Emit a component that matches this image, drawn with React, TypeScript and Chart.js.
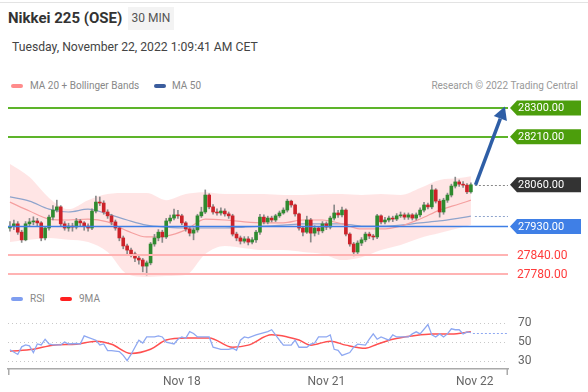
import React, { useEffect, useRef } from "react";
import { Chart, registerables } from "chart.js";

Chart.register(...registerables);

const FONT = "Roboto, 'Liberation Sans', Arial, sans-serif";

// ---------------- price data (30 MIN candles) ----------------
const opens = [
  27925, 27930, 27938, 27912, 27888, 27938, 27944, 27947, 27941, 27894,
  27925, 27959, 27981, 27991, 27938, 27925, 27931, 27928, 27947, 27941,
  27931, 27925, 27978, 28006, 28003, 27975, 27963, 27944, 27925, 27894,
  27869, 27856, 27844, 27831, 27825, 27806, 27816, 27875, 27894, 27912,
  27897, 27947, 27956, 27966, 27963, 27941, 27922, 27909, 27919, 27963,
  27975, 28028, 27991, 27975, 27972, 27978, 27969, 27963, 27906, 27894,
  27884, 27891, 27881, 27888, 27912, 27959, 27944, 27956, 27950, 27963,
  27972, 27981, 28009, 27997, 27969, 27925, 27912, 27950, 27909, 27925,
  27916, 27938, 27928, 27956, 27972, 27966, 27981, 27906, 27875, 27850,
  27878, 27888, 27906, 27900, 27897, 27963, 27944, 27950, 27956, 27953,
  27963, 27966, 27959, 27966, 27956, 27966, 27981, 27997, 27991, 28044,
  28009, 27975, 28012, 28028, 28056, 28069, 28062, 28059, 28038,
];
const highs = [
  27945, 27950, 27945, 27918, 27945, 27955, 27960, 27955, 27945, 27930,
  27965, 27995, 28012, 27995, 27945, 27940, 27940, 27955, 27952, 27945,
  27938, 27985, 28025, 28022, 28010, 27982, 27968, 27950, 27930, 27900,
  27875, 27862, 27850, 27840, 27830, 27822, 27880, 27905, 27920, 27918,
  27955, 27965, 27984, 27980, 27968, 27945, 27928, 27925, 27968, 27990,
  28044, 28032, 27998, 27985, 27988, 27985, 27975, 27968, 27912, 27900,
  27898, 27898, 27895, 27918, 27968, 27966, 27962, 27962, 27968, 27978,
  27988, 28015, 28012, 28000, 27972, 27930, 27962, 27955, 27932, 27930,
  27945, 27944, 27962, 27997, 27980, 27990, 27985, 27910, 27880, 27885,
  27895, 27912, 27912, 27905, 27968, 27966, 27958, 27962, 27962, 27970,
  27975, 27972, 27972, 27970, 27972, 27988, 28005, 28003, 28059, 28048,
  28015, 28018, 28034, 28062, 28084, 28075, 28070, 28064, 28066,
];
const lows = [
  27915, 27920, 27905, 27880, 27885, 27930, 27935, 27930, 27885, 27888,
  27918, 27950, 27975, 27930, 27918, 27915, 27915, 27922, 27930, 27918,
  27915, 27920, 27972, 27995, 27968, 27955, 27935, 27918, 27885, 27860,
  27845, 27835, 27820, 27812, 27788, 27778, 27810, 27868, 27885, 27880,
  27892, 27940, 27950, 27955, 27935, 27915, 27900, 27888, 27912, 27958,
  27970, 27985, 27968, 27965, 27965, 27962, 27955, 27900, 27885, 27875,
  27878, 27872, 27875, 27880, 27905, 27938, 27938, 27944, 27945, 27958,
  27968, 27975, 27990, 27962, 27918, 27900, 27908, 27881, 27900, 27905,
  27910, 27920, 27922, 27950, 27958, 27960, 27900, 27868, 27838, 27845,
  27870, 27882, 27892, 27888, 27892, 27938, 27938, 27944, 27945, 27948,
  27958, 27952, 27952, 27950, 27950, 27960, 27975, 27985, 27985, 28003,
  27959, 27968, 28005, 28022, 28050, 28055, 28052, 28032, 28034,
];
const closes = [
  27930, 27938, 27912, 27888, 27938, 27944, 27947, 27941, 27894, 27925,
  27959, 27981, 27991, 27938, 27925, 27931, 27928, 27947, 27941, 27931,
  27925, 27978, 28006, 28003, 27975, 27963, 27944, 27925, 27894, 27869,
  27856, 27844, 27831, 27825, 27806, 27816, 27875, 27894, 27912, 27897,
  27947, 27956, 27966, 27963, 27941, 27922, 27909, 27919, 27963, 27975,
  28028, 27991, 27975, 27972, 27978, 27969, 27963, 27906, 27894, 27884,
  27891, 27881, 27888, 27912, 27959, 27944, 27956, 27950, 27963, 27972,
  27981, 28009, 27997, 27969, 27925, 27912, 27950, 27909, 27925, 27916,
  27938, 27928, 27956, 27972, 27966, 27981, 27906, 27875, 27850, 27878,
  27888, 27906, 27900, 27897, 27963, 27944, 27950, 27956, 27953, 27963,
  27966, 27959, 27966, 27956, 27966, 27981, 27997, 27991, 28044, 28009,
  27975, 28012, 28028, 28056, 28069, 28062, 28059, 28038, 28060,
];

// indicator samples (candle index -> value)
const maIdx = [0, 5, 10, 15, 20, 25, 30, 35, 40, 45, 50, 55, 60, 65, 70, 75, 80, 85, 90, 95, 100, 105, 110, 115, 118];
const bbUpper = [28125, 28084, 28019, 27984, 28012, 28031, 28034, 28034, 28012, 28031, 28037, 28031, 28031, 28031, 28028, 28028, 28031, 28031, 28028, 28031, 28028, 28050, 28075, 28081, 28087];
const bbLower = [27881, 27888, 27894, 27888, 27881, 27850, 27781, 27772, 27775, 27778, 27844, 27869, 27862, 27856, 27856, 27850, 27844, 27825, 27834, 27856, 27872, 27894, 27909, 27925, 27934];
const ma20 = [28006, 27978, 27953, 27950, 27953, 27944, 27916, 27897, 27900, 27919, 27953, 27950, 27944, 27941, 27941, 27950, 27950, 27938, 27922, 27922, 27931, 27953, 27981, 28000, 28012];
const ma50 = [28022, 28009, 27984, 27975, 27984, 27969, 27950, 27934, 27928, 27925, 27925, 27925, 27928, 27931, 27934, 27938, 27938, 27938, 27931, 27931, 27934, 27941, 27947, 27956, 27962];

// key levels
const resistanceLevels = [28300, 28210];
const lastPrice = 28060;
const pivotLevel = 27930;
const supportLevels = [27840, 27780];
const arrowFrom = [119.2, 28060];
const arrowTo = [126.7, 28305];

// ---------------- RSI ----------------
const rsiIdx = [0, 2, 3, 4, 5, 6, 7, 8, 9, 10, 11, 13, 14, 15, 17, 18, 19, 20, 22, 23, 24, 25, 26, 28, 29, 30, 31, 32, 33, 34, 35, 37, 38, 39, 40, 42, 43, 44, 45, 46, 47, 48, 49, 51, 52, 54, 56, 57, 58, 59, 60, 61, 63, 66, 67, 69, 70, 72, 73, 74, 76, 77, 78, 79, 81, 82, 83, 84, 85, 87, 88, 89, 91, 92, 93, 94, 95, 97, 98, 99, 100, 102, 103, 104, 105, 107, 108, 109, 110, 111, 112, 113, 114, 115, 116, 117, 118];
const rsiVals = [42, 37, 45, 47, 46, 39, 48, 47, 53, 48, 47, 47, 50, 48, 48.5, 48, 56.5, 55, 52, 47, 48, 41, 41, 40, 36, 30.5, 37, 44.6, 52, 49, 55.4, 55.4, 56.5, 55.4, 50, 48, 53, 55.4, 54, 61, 59, 55.4, 55.4, 55.4, 44.6, 42.4, 42.4, 43.5, 41.4, 52, 55.4, 54.5, 57.6, 61, 63, 52, 46.8, 46.8, 52, 44.6, 44.6, 47.8, 49, 55.4, 55.4, 57.6, 42.4, 41.4, 36, 39, 44.6, 47.8, 46.8, 53, 58.6, 53, 55.4, 52, 57.6, 55.4, 55.4, 55.4, 58.6, 60.8, 58.6, 68.4, 57.6, 55.4, 58.6, 55.4, 58.6, 64, 63, 63, 58.6, 60.8, 60];
const rsiMaIdx = [0, 6, 11, 17, 22, 26, 31, 36, 40, 45, 51, 57, 61, 67, 71, 74, 77, 82, 86, 91, 94, 98, 103, 108, 113, 118];
const rsiMaVals = [40.5, 42.4, 46.8, 47.8, 51, 47.8, 38, 42.4, 52.2, 54.3, 54.3, 44.6, 46.8, 57.6, 55.4, 52.2, 46.8, 51, 46.8, 43.5, 47.8, 53, 56.5, 58.6, 58.6, 60.8];
const rsiTicks = [30, 50, 70];

const dayTicks = [44, 81, 119];
const dayLabels = ["Nov 18", "Nov 21", "Nov 22"];

const X_MIN = -0.5;
const X_MAX = 127.5;

const GREEN = "#2f8a2f";
const RED = "#cc2229";

function tag(ctx: CanvasRenderingContext2D, x0: number, yc: number, text: string, bg: string) {
  const h = 15;
  ctx.beginPath();
  ctx.moveTo(x0, yc);
  ctx.lineTo(x0 + 7, yc - h / 2);
  ctx.lineTo(x0 + 71, yc - h / 2);
  ctx.lineTo(x0 + 71, yc + h / 2);
  ctx.lineTo(x0 + 7, yc + h / 2);
  ctx.closePath();
  ctx.fillStyle = bg;
  ctx.fill();
  ctx.fillStyle = "#fff";
  ctx.font = `11px ${FONT}`;
  ctx.textBaseline = "middle";
  ctx.textAlign = "left";
  ctx.fillText(text, x0 + 8, yc + 0.5);
}

const pricePlugin = {
  id: "priceDecor",
  afterDatasetsDraw(chart: any) {
    const { ctx, chartArea: a, scales } = chart;
    const x = scales.x;
    const y = scales.y;
    ctx.save();
    const hline = (v: number, color: string, w: number) => {
      const py = Math.round(y.getPixelForValue(v)) + (w % 2 ? 0.5 : 0);
      ctx.beginPath();
      ctx.strokeStyle = color;
      ctx.lineWidth = w;
      ctx.moveTo(a.left, py);
      ctx.lineTo(a.right, py);
      ctx.stroke();
    };
    supportLevels.forEach((v) => hline(v, "#ffb3b3", 2));
    resistanceLevels.forEach((v) => hline(v, "#5db42a", 2));
    hline(pivotLevel, "#3f7fe6", 1.5);

    // dotted extensions
    ctx.setLineDash([2, 2]);
    ctx.lineWidth = 1;
    const lastI = closes.length - 1;
    let py = Math.round(y.getPixelForValue(lastPrice)) + 0.5;
    ctx.strokeStyle = "#888";
    ctx.beginPath();
    ctx.moveTo(x.getPixelForValue(lastI) + 4, py);
    ctx.lineTo(a.right, py);
    ctx.stroke();
    py = Math.round(y.getPixelForValue(ma50[ma50.length - 1])) + 0.5;
    ctx.strokeStyle = "#8fa4cc";
    ctx.beginPath();
    ctx.moveTo(x.getPixelForValue(lastI) + 4, py);
    ctx.lineTo(a.right, py);
    ctx.stroke();
    ctx.setLineDash([]);

    // arrow
    const x0 = x.getPixelForValue(arrowFrom[0]);
    const y0 = y.getPixelForValue(arrowFrom[1]);
    const x1 = x.getPixelForValue(arrowTo[0]);
    const y1 = y.getPixelForValue(arrowTo[1]);
    const ang = Math.atan2(y1 - y0, x1 - x0);
    const hl = 13;
    const hw = 7;
    const bx = x1 - hl * Math.cos(ang);
    const by = y1 - hl * Math.sin(ang);
    ctx.strokeStyle = "#2e5ea6";
    ctx.fillStyle = "#2e5ea6";
    ctx.lineWidth = 3.5;
    ctx.lineCap = "butt";
    ctx.beginPath();
    ctx.moveTo(x0, y0);
    ctx.lineTo(bx, by);
    ctx.stroke();
    ctx.beginPath();
    ctx.moveTo(x1, y1);
    ctx.lineTo(bx + hw * Math.sin(ang), by - hw * Math.cos(ang));
    ctx.lineTo(bx - hw * Math.sin(ang), by + hw * Math.cos(ang));
    ctx.closePath();
    ctx.fill();

    // right labels
    const lx = a.right + 2;
    resistanceLevels.forEach((v) => tag(ctx, lx, y.getPixelForValue(v), v.toFixed(2), "#4c9e0c"));
    tag(ctx, lx, y.getPixelForValue(lastPrice), lastPrice.toFixed(2), "#333333");
    tag(ctx, lx, y.getPixelForValue(pivotLevel), pivotLevel.toFixed(2), "#3f7fe6");
    supportLevels.forEach((v) => {
      ctx.fillStyle = "#ff3b3b";
      ctx.font = `12px ${FONT}`;
      ctx.textBaseline = "middle";
      ctx.textAlign = "left";
      ctx.fillText(v.toFixed(2), lx + 7, y.getPixelForValue(v) + 0.5);
    });
    ctx.restore();
  },
};

const rsiPlugin = {
  id: "rsiDecor",
  afterDraw(chart: any) {
    const { ctx, chartArea: a, scales } = chart;
    const x = scales.x;
    const y = scales.y;
    ctx.save();
    ctx.setLineDash([2, 2]);
    ctx.strokeStyle = "#8ea8f2";
    ctx.lineWidth = 1;
    const lastX = rsiIdx[rsiIdx.length - 1];
    const py = Math.round(y.getPixelForValue(rsiVals[rsiVals.length - 1])) + 0.5;
    ctx.beginPath();
    ctx.moveTo(x.getPixelForValue(lastX) + 2, py);
    ctx.lineTo(a.right, py);
    ctx.stroke();
    ctx.setLineDash([]);
    ctx.strokeStyle = "#aaa";
    ctx.lineWidth = 1.5;
    ctx.beginPath();
    ctx.moveTo(a.left + 0.75, a.bottom);
    ctx.lineTo(a.left + 0.75, a.bottom + 6);
    ctx.moveTo(a.right - 0.75, a.bottom);
    ctx.lineTo(a.right - 0.75, a.bottom + 6);
    ctx.stroke();
    ctx.restore();
  },
};

function PriceChart() {
  const ref = useRef<HTMLCanvasElement>(null);
  useEffect(() => {
    if (!ref.current) return;
    const pts = (vals: number[]) => maIdx.map((i, k) => ({ x: i, y: vals[k] }));
    const chart = new Chart(ref.current, {
      type: "bar",
      data: {
        datasets: [
          {
            type: "bar",
            label: "body",
            data: opens.map((o, i) => ({ x: i, y: [o, closes[i]] })) as any,
            backgroundColor: closes.map((c, i) => (c >= opens[i] ? GREEN : RED)),
            barThickness: 3,
            grouped: false,
            order: 1,
          } as any,
          {
            type: "bar",
            label: "wick",
            data: highs.map((h, i) => ({ x: i, y: [lows[i], h] })) as any,
            backgroundColor: "#8a8a8a",
            barThickness: 1,
            grouped: false,
            order: 2,
          } as any,
          {
            type: "line",
            label: "MA 20",
            data: pts(ma20),
            borderColor: "#f5a0a0",
            borderWidth: 1.2,
            pointRadius: 0,
            cubicInterpolationMode: "monotone",
            fill: false,
            order: 3,
          } as any,
          {
            type: "line",
            label: "MA 50",
            data: pts(ma50),
            borderColor: "#8fa4cc",
            borderWidth: 1.2,
            pointRadius: 0,
            cubicInterpolationMode: "monotone",
            fill: false,
            order: 3,
          } as any,
          {
            type: "line",
            label: "BB upper",
            data: pts(bbUpper),
            borderWidth: 0,
            borderColor: "rgba(0,0,0,0)",
            pointRadius: 0,
            cubicInterpolationMode: "monotone",
            fill: "+1",
            backgroundColor: "rgba(255,175,175,0.32)",
            order: 5,
          } as any,
          {
            type: "line",
            label: "BB lower",
            data: pts(bbLower),
            borderWidth: 0,
            borderColor: "rgba(0,0,0,0)",
            pointRadius: 0,
            cubicInterpolationMode: "monotone",
            fill: false,
            order: 5,
          } as any,
        ],
      },
      options: {
        animation: false,
        responsive: false,
        maintainAspectRatio: false,
        layout: { padding: { left: 8, right: 80, top: 0, bottom: 0 } },
        plugins: { legend: { display: false }, tooltip: { enabled: false } },
        scales: {
          x: { type: "linear", min: X_MIN, max: X_MAX, display: false, offset: false },
          y: { min: 27746.9, max: 28340.6, display: false },
        },
      },
      plugins: [pricePlugin],
    } as any);
    return () => chart.destroy();
  }, []);
  return <canvas ref={ref} width={588} height={190} style={{ position: "absolute", left: 0, top: 95, display: "block" }} />;
}

function RsiChart() {
  const ref = useRef<HTMLCanvasElement>(null);
  useEffect(() => {
    if (!ref.current) return;
    const chart = new Chart(ref.current, {
      type: "line",
      data: {
        datasets: [
          {
            label: "RSI",
            data: rsiIdx.map((i, k) => ({ x: i, y: rsiVals[k] })),
            borderColor: "#8ea8f2",
            borderWidth: 1.3,
            pointRadius: 0,
            tension: 0,
          },
          {
            label: "9MA",
            data: rsiMaIdx.map((i, k) => ({ x: i, y: rsiMaVals[k] })),
            borderColor: "#ff5050",
            borderWidth: 1.5,
            pointRadius: 0,
            cubicInterpolationMode: "monotone",
          },
        ],
      },
      options: {
        animation: false,
        responsive: false,
        maintainAspectRatio: false,
        layout: { padding: { left: 8, right: 0, top: 21.75, bottom: 0 } },
        plugins: { legend: { display: false }, tooltip: { enabled: false } },
        scales: {
          x: {
            type: "linear",
            min: X_MIN,
            max: X_MAX,
            grid: { display: false, drawTicks: false },
            border: { display: true, color: "#aaa", width: 1.5 },
            afterBuildTicks: (s: any) => {
              s.ticks = dayTicks.map((v) => ({ value: v }));
            },
            afterFit: (s: any) => {
              s.height = 30.9;
            },
            ticks: {
              autoSkip: false,
              maxRotation: 0,
              padding: 6,
              color: "#666",
              font: { size: 12, family: FONT },
              callback: (v: any) => dayLabels[dayTicks.indexOf(Number(v))] ?? "",
            },
          },
          y: {
            position: "right",
            min: 21.6,
            max: 81.9,
            afterBuildTicks: (s: any) => {
              s.ticks = rsiTicks.map((v) => ({ value: v }));
            },
            afterFit: (s: any) => {
              s.width = 80;
            },
            grid: { color: "#c8c8c8", drawTicks: false, lineWidth: 1 },
            border: { display: false, dash: [1, 3] },
            ticks: { padding: 10, color: "#666", font: { size: 12, family: FONT } },
          },
        },
      },
      plugins: [rsiPlugin],
    } as any);
    return () => chart.destroy();
  }, []);
  return <canvas ref={ref} width={588} height={110} style={{ position: "absolute", left: 0, top: 290, display: "block" }} />;
}

const legendText: React.CSSProperties = {
  position: "absolute",
  fontSize: 10,
  color: "#888",
  lineHeight: "14px",
  whiteSpace: "nowrap",
};

function Swatch({ left, top, color }: { left: number; top: number; color: string }) {
  return (
    <div style={{ position: "absolute", left, top, width: 12, height: 4, borderRadius: 2, background: color }} />
  );
}

export default function App() {
  useEffect(() => {
    document.body.style.margin = "0";
  }, []);
  return (
    <div
      style={{
        position: "fixed",
        left: 0,
        top: 0,
        width: 588,
        height: 392,
        background: "#fff",
        fontFamily: FONT,
        overflow: "hidden",
      }}
    >
      <div style={{ position: "absolute", left: 0, top: 2, width: 588, height: 1, background: "#e3e3e3" }} />
      <div style={{ position: "absolute", left: 8, top: 8, fontSize: 15, fontWeight: 700, color: "#333", lineHeight: "20px", whiteSpace: "nowrap" }}>
        Nikkei 225 (OSE)
      </div>
      <div
        style={{
          position: "absolute",
          left: 128,
          top: 7,
          width: 46,
          height: 23,
          background: "#f3f3f3",
          fontSize: 12,
          color: "#555",
          lineHeight: "23px",
          textAlign: "center",
          whiteSpace: "nowrap",
        }}
      >
        30 MIN
      </div>
      <div style={{ position: "absolute", left: 12, top: 38, fontSize: 12.2, color: "#444", lineHeight: "18px", whiteSpace: "nowrap" }}>
        Tuesday, November 22, 2022 1:09:41 AM CET
      </div>

      <Swatch left={11} top={84} color="#ff8c8c" />
      <div style={{ ...legendText, left: 30, top: 79 }}>MA 20 + Bollinger Bands</div>
      <Swatch left={154} top={84} color="#3b5d9e" />
      <div style={{ ...legendText, left: 172, top: 79 }}>MA 50</div>
      <div style={{ ...legendText, right: 10, top: 79, color: "#999" }}>Research © 2022 Trading Central</div>

      <PriceChart />

      <Swatch left={11} top={297} color="#7f9ef0" />
      <div style={{ ...legendText, left: 30, top: 292 }}>RSI</div>
      <Swatch left={60} top={297} color="#ff2020" />
      <div style={{ ...legendText, left: 79, top: 292 }}>9MA</div>

      <RsiChart />
    </div>
  );
}
